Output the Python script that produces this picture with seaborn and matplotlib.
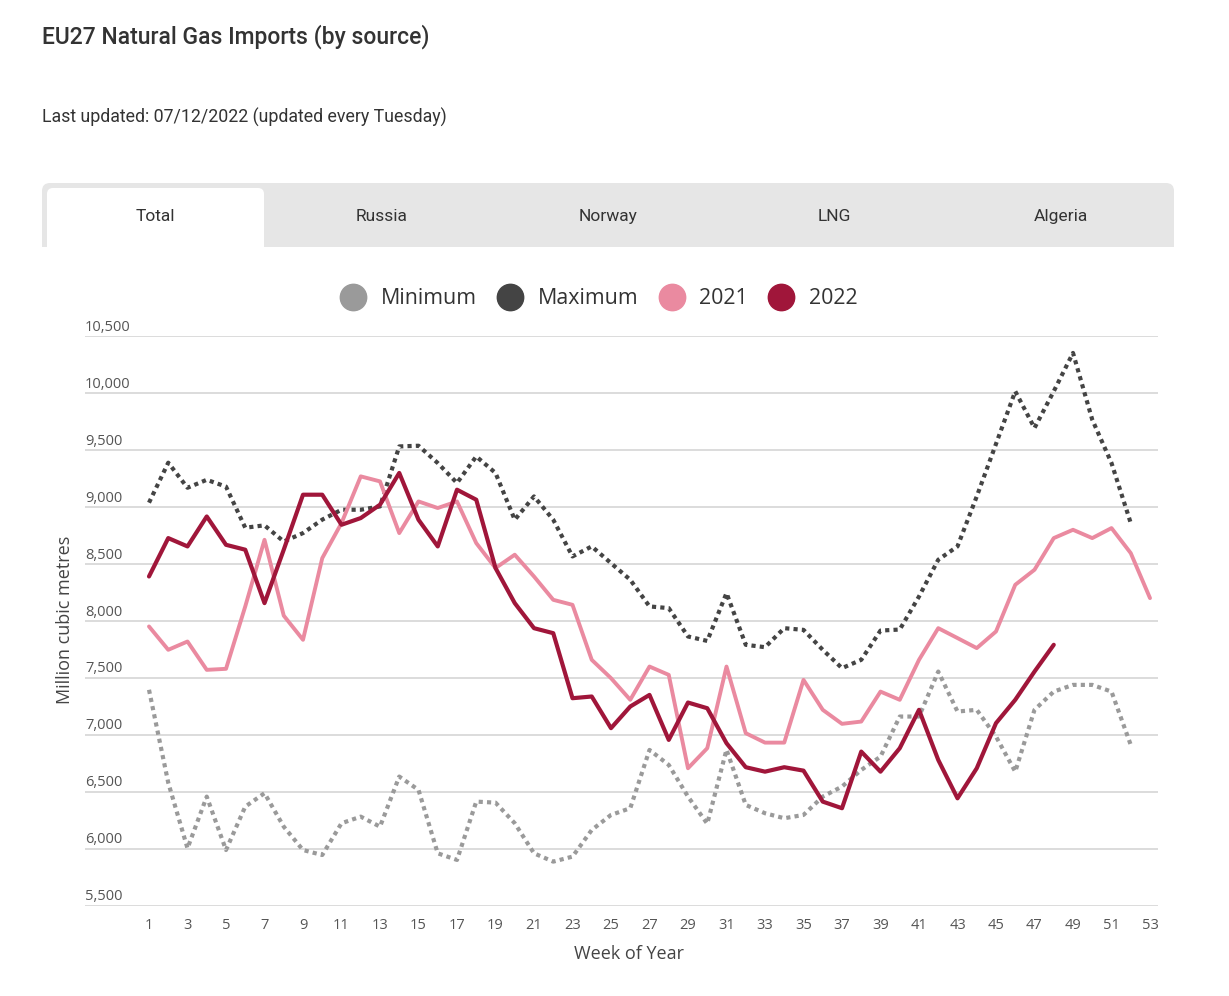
import numpy as np
import pandas as pd
import matplotlib
matplotlib.use("Agg")
import matplotlib.pyplot as plt
import matplotlib.transforms as mtransforms
from matplotlib.patches import FancyBboxPatch, Rectangle
from matplotlib.lines import Line2D
import seaborn as sns

# ---------------- data ----------------
weeks_minmax = list(range(1, 53))
minimum = [7396, 6580, 6004, 6458, 5989, 6370, 6488, 6194, 5989, 5945,
           6224, 6282, 6194, 6634, 6517, 5960, 5902, 6414, 6405, 6224,
           5960, 5887, 5931, 6165, 6297, 6356, 6868, 6736, 6458, 6220,
           6870, 6385, 6312, 6268, 6297, 6458, 6546, 6692, 6809, 7161,
           7161, 7556, 7205, 7220, 6985, 6677, 7220, 7380, 7439, 7439,
           7380, 6912]
maximum = [9039, 9390, 9170, 9240, 9180, 8819, 8840, 8698, 8772, 8890,
           8977, 8977, 9006, 9533, 9539, 9387, 9212, 9445, 9300, 8889,
           9094, 8889, 8567, 8655, 8508, 8362, 8128, 8113, 7864, 7825,
           8245, 7791, 7770, 7937, 7922, 7747, 7586, 7659, 7916, 7925,
           8215, 8538, 8655, 9094, 9555, 10017, 9695, 10017, 10354, 9768,
           9387, 8860]
weeks_2021 = list(range(1, 54))
y2021 = [7952, 7747, 7820, 7571, 7580, 8128, 8713, 8047, 7835, 8552,
         8860, 9270, 9226, 8772, 9050, 8992, 9050, 8684, 8465, 8582,
         8391, 8186, 8142, 7659, 7498, 7308, 7600, 7527, 6707, 6883,
         7600, 7015, 6932, 6932, 7483, 7220, 7097, 7117, 7380, 7308,
         7659, 7937, 7850, 7762, 7908, 8318, 8450, 8728, 8801, 8728,
         8816, 8596, 8201]
weeks_2022 = list(range(1, 49))
y2022 = [8391, 8728, 8655, 8918, 8669, 8626, 8157, 8626, 9109, 9109,
         8845, 8904, 9021, 9300, 8889, 8655, 9153, 9065, 8465, 8157,
         7937, 7893, 7322, 7337, 7059, 7249, 7351, 6956, 7284, 7234,
         6927, 6716, 6677, 6716, 6686, 6414, 6356, 6853, 6677, 6883,
         7220, 6780, 6443, 6707, 7103, 7308, 7556, 7791]

series_names = ["Minimum", "Maximum", "2021", "2022"]
series_colors = ["#9a9a9a", "#444444", "#ea8aa0", "#a0163a"]
yticks = [5500, 6000, 6500, 7000, 7500, 8000, 8500, 9000, 9500, 10000, 10500]
xticks = list(range(1, 54, 2))
tabs = ["Total", "Russia", "Norway", "LNG", "Algeria"]

title = "EU27 Natural Gas Imports (by source)"
subtitle = "Last updated: 07/12/2022 (updated every Tuesday)"

# ---------------- style ----------------
sns.set_style("white")
plt.rcParams["font.family"] = ["Open Sans", "DejaVu Sans"]
narrow = ["Roboto", "DejaVu Sans"]

W, H = 1229, 996
fig = plt.figure(figsize=(W / 100, H / 100), dpi=100)

# overlay axes in pixel coordinates for header / tabs
ov = fig.add_axes([0, 0, 1, 1], zorder=0)
ov.set_xlim(0, W)
ov.set_ylim(H, 0)
ov.axis("off")

ov.text(42, 37, title, fontsize=16.5, color="#333333", family=narrow,
        weight="medium", va="center", ha="left")
ov.text(42, 117, subtitle, fontsize=12.8, color="#333333", family=narrow,
        va="center", ha="left")

# tab bar
ov.add_patch(FancyBboxPatch((42, 183), 1132, 75, boxstyle="round,pad=0,rounding_size=8",
                            facecolor="#e6e6e6", edgecolor="none", zorder=1))
ov.add_patch(Rectangle((30, 247), 1160, 20, facecolor="white", edgecolor="none", zorder=2))
ov.add_patch(FancyBboxPatch((47, 188), 217, 75, boxstyle="round,pad=0,rounding_size=6",
                            facecolor="white", edgecolor="none", zorder=3))
tab_w = 1132 / len(tabs)
for i, t in enumerate(tabs):
    ov.text(42 + tab_w * (i + 0.5), 216, t, fontsize=12.5, color="#333333",
            family=narrow, ha="center", va="center", zorder=4)

# ---------------- main chart ----------------
left_px, right_px, top_px, bottom_px = 85, 1158, 336.3, 905.7
ax = fig.add_axes([left_px / W, 1 - bottom_px / H, (right_px - left_px) / W,
                   (bottom_px - top_px) / H], zorder=1)
ax.set_facecolor("none")

df_min = pd.DataFrame({"week": weeks_minmax, "value": minimum})
df_max = pd.DataFrame({"week": weeks_minmax, "value": maximum})
df_21 = pd.DataFrame({"week": weeks_2021, "value": y2021})
df_22 = pd.DataFrame({"week": weeks_2022, "value": y2022})

sns.lineplot(data=df_min, x="week", y="value", ax=ax, color=series_colors[0],
             linewidth=3.0, linestyle=(0, (1, 1)), dash_capstyle="butt", zorder=2)
sns.lineplot(data=df_max, x="week", y="value", ax=ax, color=series_colors[1],
             linewidth=3.0, linestyle=(0, (1, 1)), dash_capstyle="butt", zorder=3)
sns.lineplot(data=df_21, x="week", y="value", ax=ax, color=series_colors[2],
             linewidth=2.8, solid_joinstyle="round", zorder=4)
sns.lineplot(data=df_22, x="week", y="value", ax=ax, color=series_colors[3],
             linewidth=3.0, solid_joinstyle="round", zorder=5)

px_per_week = (1150 - 149) / 52
ax.set_xlim(1 - (149 - left_px) / px_per_week, 53 + (right_px - 1150) / px_per_week)
ax.set_ylim(5500, 10500)

for s in ax.spines.values():
    s.set_visible(False)

ax.set_yticks(yticks)
ax.set_yticklabels([])
ax.tick_params(axis="y", length=0)
ax.grid(axis="y", color="#d9d9d9", linewidth=1.3)
ax.grid(axis="x", visible=False)

trans = mtransforms.offset_copy(ax.get_yaxis_transform(), fig=fig, x=0, y=9, units="dots")
for v in yticks:
    ax.text(0, v, f"{v:,}", transform=trans, ha="left", va="center",
            fontsize=10.5, color="#555555")

ax.set_xticks(xticks)
ax.set_xticklabels([str(x) for x in xticks], fontsize=10.5, color="#555555")
ax.tick_params(axis="x", length=0, pad=9)

ax.set_xlabel("Week of Year", fontsize=13, color="#444444")
ax.set_ylabel("Million cubic metres", fontsize=13, color="#444444")
ax.xaxis.set_label_coords((629 - left_px) / (right_px - left_px),
                          -(945 - bottom_px) / (bottom_px - top_px))
ax.yaxis.set_label_coords(-(left_px - 74) / (right_px - left_px),
                          (bottom_px - 620) / (bottom_px - top_px))

# legend
handles = [Line2D([], [], marker="o", linestyle="", markersize=19,
                  markerfacecolor=c, markeredgecolor=c) for c in series_colors]
leg = fig.legend(handles, series_names, loc="center",
                 bbox_to_anchor=(599 / W, 1 - 299 / H), ncol=4, frameon=False,
                 fontsize=15.4, handlelength=1.2, handletextpad=0.7,
                 columnspacing=0.95, borderpad=0)
for t in leg.get_texts():
    t.set_color("#333333")

fig.savefig("out.png", dpi=100, facecolor="white")
